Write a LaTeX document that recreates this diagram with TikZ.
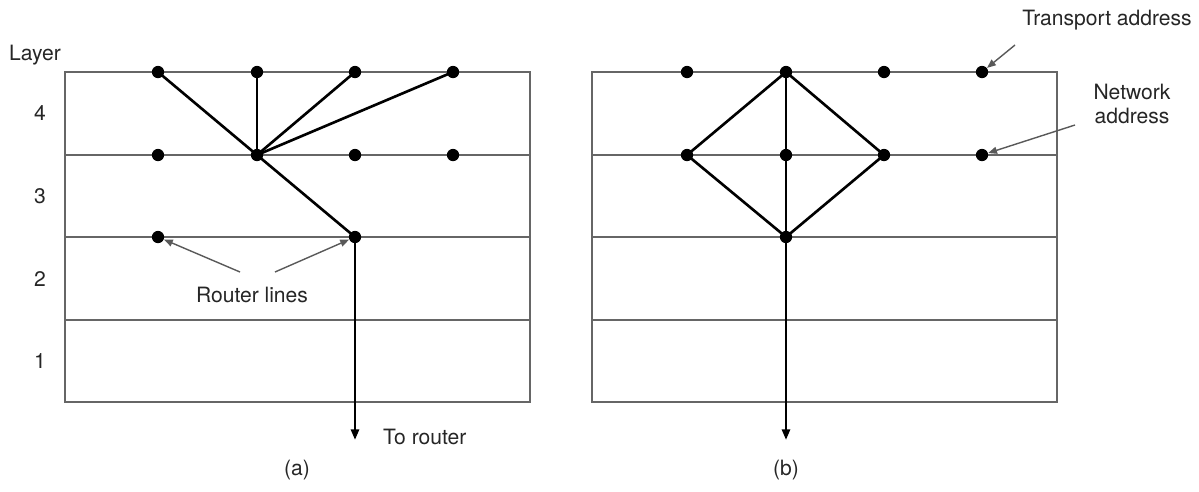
\documentclass[tikz,border=0pt]{standalone}
\usepackage{fontspec}
\setmainfont{TeX Gyre Heros}
\usetikzlibrary{arrows.meta}

\tikzset{
	dot/.style={circle,fill=black,inner sep=0pt,minimum size=7pt},
	layerline/.style={draw=black!60,line width=1pt},
	route/.style={draw=black,line width=1.5pt},
	pointer/.style={draw=black!65,line width=0.8pt,-{Triangle[length=5pt,width=4pt]}},
	label/.style={font=\fontsize{12}{14}\selectfont,text=black!85}
}

\begin{document}
\begin{tikzpicture}[x=0.02cm,y=-0.02cm]
		\useasboundingbox (0,0) rectangle (1199,491);
		% the two stacks of layers
		\foreach \xo in {65,592}{
			\draw[layerline] (\xo,72) rectangle (\xo+465,402);
			\foreach \y in {155,237,320}
				\draw[layerline] (\xo,\y) -- (\xo+465,\y);
		}
		\node[label] (layer) at (35,55) {Layer};
		\foreach \n/\y in {4/113,3/196,2/279,1/361}
			\node[label] (lay\n) at (40,\y) {\n};
		% addresses in (a)
		\foreach \x [count=\i] in {158,257,355,453}{
			\node[dot] (ta\i) at (\x,72) {};
			\node[dot] (na\i) at (\x,155) {};
		}
		\node[dot] (ra1) at (158,237) {};
		\node[dot] (ra3) at (355,237) {};
		\coordinate (outa) at (355,440);
		\foreach \i in {1,2,3,4}
			\draw[route] (ta\i.center) -- (na2.center);
		\draw[route] (na2.center) -- (ra3.center);
		\draw[route,-{Triangle[length=6pt,width=4.5pt]}] (ra3.center) -- (outa);
		% addresses in (b)
		\foreach \x [count=\i] in {687,786,884,982}{
			\node[dot] (tb\i) at (\x,72) {};
			\node[dot] (nb\i) at (\x,155) {};
		}
		\node[dot] (rb2) at (786,237) {};
		\coordinate (outb) at (786,440);
		\draw[route] (tb2.center) -- (nb1.center) -- (rb2.center) -- (nb3.center) -- cycle;
		\draw[route] (tb2.center) -- (nb2.center) -- (rb2.center);
		\draw[route,-{Triangle[length=6pt,width=4.5pt]}] (rb2.center) -- (outb);
		% labels
		\node[label] (rlines) at (252,295) {Router lines};
		\coordinate (rl1) at (240,272);
		\coordinate (rl2) at (275,272);
		\draw[pointer] (rl1) -- (ra1);
		\draw[pointer] (rl2) -- (ra3);
		\node[label,anchor=west] (torouter) at (377,437) {To router};
		\node[label] (capa) at (297,470) {(a)};
		\node[label] (capb) at (786,470) {(b)};
		\node[label] (taddr) at (1107,20) {Transport address};
		\coordinate (tap) at (1015,45);
		\draw[pointer] (tap) -- (tb4);
		\node[label,align=center] (naddr) at (1132,104) {Network\\address};
		\coordinate (nap) at (1075,125);
		\draw[pointer] (nap) -- (nb4);
\end{tikzpicture}
\end{document}
